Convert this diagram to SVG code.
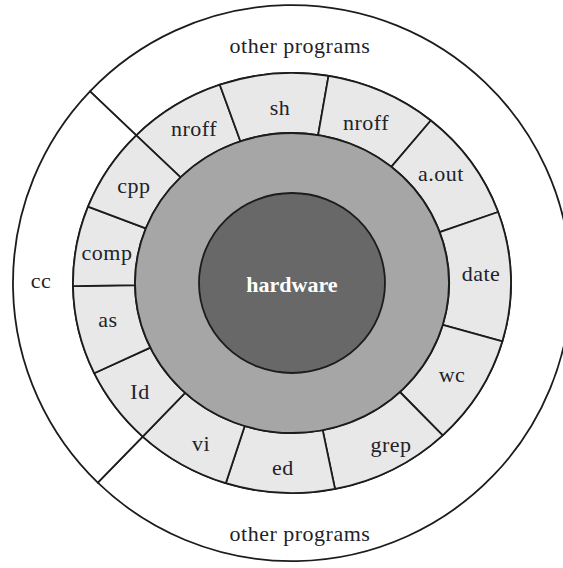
<svg xmlns="http://www.w3.org/2000/svg" width="563" height="568" viewBox="0 0 563 568">
  <style>
    .ring { stroke: #1c1c1c; stroke-width: 1.8; stroke-linejoin: round; }
    .outer { fill: #ffffff; }
    .prog { fill: #e8e8e8; }
    .kernel { fill: #a6a6a6; }
    .hw { fill: #686868; }
    text { font-family: "Liberation Serif", "Times New Roman", serif; font-size: 22px; letter-spacing: 0.5px; text-anchor: middle; fill: #222228; }
    .light { fill: #ffffff; font-weight: bold; letter-spacing: 0; }
  </style>
  <rect x="0" y="0" width="563" height="568" fill="#ffffff"/>

  <!-- outermost ring: cc and other programs -->
  <g id="other-programs">
    <path class="ring outer" d="M136.3,135.3 L90,91.3 A279,278 0 1 1 97.8,482.7 L142.7,436.6 A219,210 0 1 0 136.3,135.3 Z"/>
    <text x="300" y="53">other programs</text>
    <text x="300" y="541">other programs</text>
  </g>
  <g id="cc">
    <path class="ring outer" d="M142.7,436.6 L97.8,482.7 A279,278 0 0 1 90,91.3 L136.3,135.3 A219,210 0 0 0 142.7,436.6 Z"/>
    <text x="41" y="288">cc</text>
  </g>

  <!-- program ring -->
  <g id="nroff-left">
    <path class="ring prog" d="M180.6,177.3 L136.3,135.3 A219,210 0 0 1 219.8,84.7 L240.4,141.3 A157,150 0 0 0 180.6,177.3 Z"/>
    <text x="194" y="136">nroff</text>
  </g>
  <g id="sh">
    <path class="ring prog" d="M240.4,141.3 L219.8,84.7 A219,210 0 0 1 328.5,75.9 L318.1,135.1 A157,150 0 0 0 240.4,141.3 Z"/>
    <text x="280" y="115">sh</text>
  </g>
  <g id="nroff-right">
    <path class="ring prog" d="M318.1,135.1 L328.5,75.9 A219,210 0 0 1 430.8,120.5 L391.3,166.8 A157,150 0 0 0 318.1,135.1 Z"/>
    <text x="366" y="130">nroff</text>
  </g>
  <g id="a-out">
    <path class="ring prog" d="M391.3,166.8 L430.8,120.5 A219,210 0 0 1 498.1,212 L439.7,232.1 A157,150 0 0 0 391.3,166.8 Z"/>
    <text x="441" y="181">a.out</text>
  </g>
  <g id="date">
    <path class="ring prog" d="M439.7,232.1 L498.1,212 A219,210 0 0 1 502.4,341.3 L442.8,324.8 A157,150 0 0 0 439.7,232.1 Z"/>
    <text x="481" y="281">date</text>
  </g>
  <g id="wc">
    <path class="ring prog" d="M442.8,324.8 L502.4,341.3 A219,210 0 0 1 442.7,435.3 L399.9,392 A157,150 0 0 0 442.8,324.8 Z"/>
    <text x="452" y="382">wc</text>
  </g>
  <g id="grep">
    <path class="ring prog" d="M399.9,392 L442.7,435.3 A219,210 0 0 1 335,488.9 L322.7,430.1 A157,150 0 0 0 399.9,392 Z"/>
    <text x="391" y="452">grep</text>
  </g>
  <g id="ed">
    <path class="ring prog" d="M322.7,430.1 L335,488.9 A219,210 0 0 1 225.8,483.2 L244.7,426 A157,150 0 0 0 322.7,430.1 Z"/>
    <text x="283" y="475">ed</text>
  </g>
  <g id="vi">
    <path class="ring prog" d="M244.7,426 L225.8,483.2 A219,210 0 0 1 142.7,436.6 L185.1,392.9 A157,150 0 0 0 244.7,426 Z"/>
    <text x="201" y="451">vi</text>
  </g>
  <g id="ld">
    <path class="ring prog" d="M185.1,392.9 L142.7,436.6 A219,210 0 0 1 94.2,373.2 L150.3,347.6 A157,150 0 0 0 185.1,392.9 Z"/>
    <text x="140" y="399">Id</text>
  </g>
  <g id="as">
    <path class="ring prog" d="M150.3,347.6 L94.2,373.2 A219,210 0 0 1 73,286.1 L135,285.2 A157,150 0 0 0 150.3,347.6 Z"/>
    <text x="108" y="327">as</text>
  </g>
  <g id="comp">
    <path class="ring prog" d="M135,285.2 L73,286.1 A219,210 0 0 1 88,206.7 L145.8,228.3 A157,150 0 0 0 135,285.2 Z"/>
    <text x="107" y="260">comp</text>
  </g>
  <g id="cpp">
    <path class="ring prog" d="M145.8,228.3 L88,206.7 A219,210 0 0 1 136.3,135.3 L180.6,177.3 A157,150 0 0 0 145.8,228.3 Z"/>
    <text x="134" y="193">cpp</text>
  </g>

  <!-- kernel ring and hardware core -->
  <g id="kernel">
    <ellipse class="ring kernel" cx="292" cy="283" rx="157" ry="150"/>
  </g>
  <g id="hardware">
    <ellipse class="ring hw" cx="292" cy="283" rx="93" ry="90"/>
    <text class="light" x="292" y="292">hardware</text>
  </g>

  <!-- no connectors: the layers touch directly -->
  <g id="connectors"/>
</svg>
